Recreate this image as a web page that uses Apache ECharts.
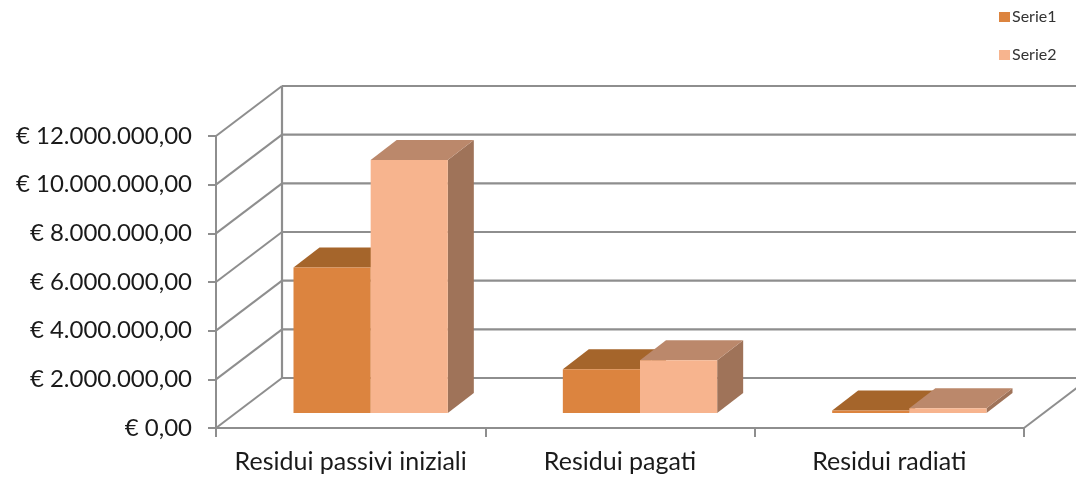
<!DOCTYPE html>
<html><head><meta charset="utf-8">
<style>html,body{margin:0;padding:0;background:#fff}#c{width:1076px;height:477px}</style>
<script src="https://cdn.jsdelivr.net/npm/echarts@6/dist/echarts.min.js"></script>
</head><body><div id="c"></div>
<script>
const categories = ['Residui passivi iniziali', 'Residui pagati', 'Residui radiati'];
const serie1 = [5980000, 1800000, 100000];
const serie2 = [10400000, 2170000, 200000];
const yTicks = [0, 2000000, 4000000, 6000000, 8000000, 10000000, 12000000];

const GRID = '#8E8E8E';
const WALL = [66, -50], FRONT = [20, -15], DEPTH = [26, -20], BAR_RATIO = 0.2865;
const looks = [
  {front: '#DC843F', top: '#A5652B', side: '#96602F'},
  {front: '#F7B48E', top: '#BB886B', side: '#9F7359'}
];
function fmt(v) {
  const s = String(v).replace(/\B(?=(\d{3})+$)/g, '.');
  return '€ ' + s + ',00';
}
function line(x1, y1, x2, y2, w) {
  return {type: 'line', shape: {x1, y1, x2, y2}, style: {stroke: GRID, lineWidth: w, fill: null}};
}
function wallItem(params, api) {
  const v = api.value(1), band = api.size([1, 0])[0];
  const p = api.coord([0, v]), left = p[0] - band / 2, right = left + band * categories.length;
  const bx = left + WALL[0], by = p[1] + WALL[1];
  const children = [line(left, p[1], bx, by, 2), line(bx, by, right + WALL[0], by, 2.2)];
  if (v === 0) {
    const t = api.coord([0, yTicks[yTicks.length - 1]]);
    children.push(line(bx, by, bx, t[1] + WALL[1], 2.2));
    children.push(line(right, p[1], right + WALL[0], by, 2));
  }
  return {type: 'group', children};
}
function barItem(idx) {
  return function (params, api) {
    const c = api.value(0), base = api.coord([c, 0]), top = api.coord([c, api.value(1)]);
    const w = api.size([1, 0])[0] * BAR_RATIO, L = looks[idx];
    const x0 = base[0] + (idx - 1) * w + FRONT[0], x1 = x0 + w;
    const y0 = base[1] + FRONT[1], y1 = top[1] + FRONT[1];
    const dx = DEPTH[0], dy = DEPTH[1];
    const poly = (pts, fill) => ({type: 'polygon', shape: {points: pts}, style: {fill}});
    return {type: 'group', children: [
      poly([[x1, y0], [x1 + dx, y0 + dy], [x1 + dx, y1 + dy], [x1, y1]], L.side),
      poly([[x0, y1], [x1, y1], [x1 + dx, y1 + dy], [x0 + dx, y1 + dy]], L.top),
      poly([[x0, y0], [x1, y0], [x1, y1], [x0, y1]], L.front)
    ]};
  };
}
const chart = echarts.init(document.getElementById('c'), null, {renderer: 'canvas'});
chart.setOption({
  animation: false,
  backgroundColor: '#fff',
  textStyle: {fontFamily: 'Lato'},
  grid: {left: 216, right: 52, top: 136, bottom: 49},
  legend: {
    orient: 'vertical', left: 994, top: 4, itemWidth: 11, itemHeight: 10, itemGap: 22,
    icon: 'rect', data: ['Serie1', 'Serie2'],
    textStyle: {fontFamily: 'Lato', fontSize: 16, color: '#333', padding: [0, 0, 0, -3]}
  },
  xAxis: {
    type: 'category', data: categories,
    axisLine: {lineStyle: {color: GRID, width: 2}},
    axisTick: {show: true, interval: 0, length: 9, lineStyle: {color: GRID, width: 2}},
    axisLabel: {fontSize: 25, color: '#1a1a1a', margin: 21, interval: 0, fontFamily: 'Lato', hideOverlap: false}
  },
  yAxis: {
    type: 'value', min: 0, max: 12000000, interval: 2000000,
    axisLine: {show: true, lineStyle: {color: GRID, width: 2}},
    axisTick: {show: true, length: 8, lineStyle: {color: GRID, width: 2}},
    axisLabel: {fontSize: 24, color: '#1a1a1a', margin: 24, fontFamily: 'Lato', formatter: fmt},
    splitLine: {show: false}
  },
  series: [
    {type: 'custom', name: 'walls', silent: true, z: 1, renderItem: wallItem,
     encode: {x: 0, y: 1}, data: yTicks.map(v => [0, v])},
    {type: 'custom', name: 'Serie1', z: 3, renderItem: barItem(0), itemStyle: {color: looks[0].front},
     encode: {x: 0, y: 1}, data: serie1.map((v, i) => [i, v])},
    {type: 'custom', name: 'Serie2', z: 4, renderItem: barItem(1), itemStyle: {color: looks[1].front},
     encode: {x: 0, y: 1}, data: serie2.map((v, i) => [i, v])}
  ]
});
</script></body></html>
